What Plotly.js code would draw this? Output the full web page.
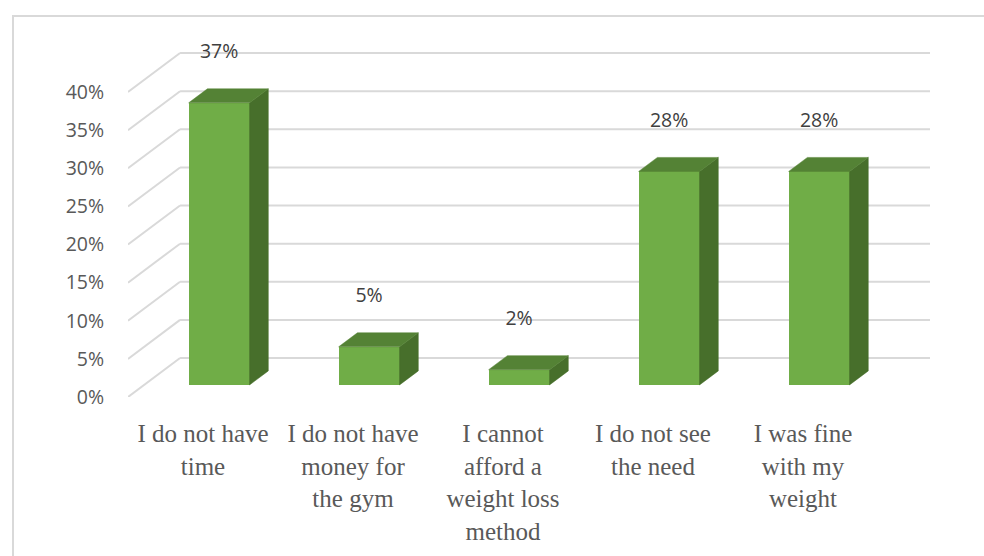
<!DOCTYPE html>
<html>
<head>
<meta charset="utf-8">
<script src="https://cdn.plot.ly/plotly-3.0.1.min.js"></script>
<style>
  html, body { margin: 0; padding: 0; background: #ffffff; }
  #chart { width: 984px; height: 556px; }
</style>
</head>
<body>
<div id="chart"></div>
<script>
// ---- data ----
const categories = [
  "I do not have<br>time",
  "I do not have<br>money for<br>the gym",
  "I cannot<br>afford a<br>weight loss<br>method",
  "I do not see<br>the need",
  "I was fine<br>with my<br>weight"
];
const values = [37, 5, 2, 28, 28];
const valueLabels = ["37%", "5%", "2%", "28%", "28%"];
const yTickVals = [0, 5, 10, 15, 20, 25, 30, 35, 40];
const yTickText = ["0%", "5%", "10%", "15%", "20%", "25%", "30%", "35%", "40%"];

// ---- 3D (oblique) geometry, in axis units ----
const DEPTH_X = 0.347, DEPTH_Y = 5.11;   // full floor depth
const FRONT = 0.31, BACK = 0.67;         // bar front/back depth fractions
const HALF_W = 0.203;
const LABEL_GAP = 6.5;

const catIdx = categories.map((_, i) => i);
const fx = FRONT * DEPTH_X, fy = FRONT * DEPTH_Y;
const bdx = (BACK - FRONT) * DEPTH_X, bdy = (BACK - FRONT) * DEPTH_Y;

const FRONT_COLOR = "#70AD47", TOP_COLOR = "#548235", SIDE_COLOR = "#476F2B";
const GRID = "#D9D9D9";

// front faces
const frontTrace = {
  type: "bar",
  x: catIdx.map(i => i + fx),
  y: values,
  base: values.map(() => fy),
  width: 2 * HALF_W,
  marker: { color: FRONT_COLOR, line: { width: 0 } },
  hoverinfo: "skip",
  showlegend: false
};

// top and side faces
const topX = [], topY = [], sideX = [], sideY = [];
values.forEach((v, i) => {
  const xl = i + fx - HALF_W, xr = i + fx + HALF_W;
  const yb = fy, yt = fy + v;
  topX.push(xl, xr, xr + bdx, xl + bdx, xl, null);
  topY.push(yt, yt, yt + bdy, yt + bdy, yt, null);
  sideX.push(xr, xr + bdx, xr + bdx, xr, xr, null);
  sideY.push(yb, yb + bdy, yt + bdy, yt, yb, null);
});
const topTrace = {
  type: "scatter", mode: "lines", x: topX, y: topY, fill: "toself",
  fillcolor: TOP_COLOR, line: { width: 0.5, color: TOP_COLOR },
  hoverinfo: "skip", showlegend: false
};
const sideTrace = {
  type: "scatter", mode: "lines", x: sideX, y: sideY, fill: "toself",
  fillcolor: SIDE_COLOR, line: { width: 0.5, color: SIDE_COLOR },
  hoverinfo: "skip", showlegend: false
};

// data labels
const labelTrace = {
  type: "scatter", mode: "text",
  x: catIdx.map(i => i + fx),
  y: values.map(v => v + fy + LABEL_GAP),
  text: valueLabels,
  textposition: "middle center",
  textfont: { family: "Open Sans, sans-serif", size: 19.5, color: "#404040" },
  cliponaxis: false, hoverinfo: "skip", showlegend: false
};

// gridlines: diagonal on left wall + horizontal on back wall
const xLeft = -0.5, xRight = categories.length - 0.5;
const shapes = [];
yTickVals.forEach(t => {
  shapes.push({ type: "line", xref: "x", yref: "y", layer: "below",
    x0: xLeft, y0: t, x1: xLeft + DEPTH_X, y1: t + DEPTH_Y,
    line: { color: GRID, width: 2 } });
  shapes.push({ type: "line", xref: "x", yref: "y", layer: "below",
    x0: xLeft + DEPTH_X, y0: t + DEPTH_Y, x1: xRight + DEPTH_X, y1: t + DEPTH_Y,
    line: { color: GRID, width: 2 } });
});
// chart border
shapes.push({ type: "rect", xref: "paper", yref: "paper", layer: "below",
  x0: -0.1434, x1: 1.09, y0: -0.52, y1: 1.1043,
  line: { color: GRID, width: 2 }, fillcolor: "rgba(0,0,0,0)" });

const layout = {
  width: 984, height: 556,
  margin: { l: 128, r: 54, t: 52, b: 159 },
  paper_bgcolor: "#ffffff", plot_bgcolor: "rgba(0,0,0,0)",
  showlegend: false,
  xaxis: {
    range: [xLeft, xRight + DEPTH_X],
    tickvals: catIdx, ticktext: categories,
    showgrid: false, zeroline: false, showline: false,
    ticks: "outside", ticklen: 14, tickcolor: "rgba(0,0,0,0)",
    tickangle: 0,
    tickfont: { family: "Liberation Serif, serif", size: 25, color: "#595959" },
    fixedrange: true
  },
  yaxis: {
    range: [0, 45.25],
    tickvals: yTickVals, ticktext: yTickText,
    showgrid: false, zeroline: false, showline: false,
    ticks: "outside", ticklen: 19, tickcolor: "rgba(0,0,0,0)",
    tickfont: { family: "Open Sans, sans-serif", size: 19.5, color: "#595959" },
    fixedrange: true
  },
  shapes: shapes,
  bargap: 0
};

Plotly.newPlot("chart", [frontTrace, sideTrace, topTrace, labelTrace], layout, { staticPlot: true, displayModeBar: false });
</script>
</body>
</html>
